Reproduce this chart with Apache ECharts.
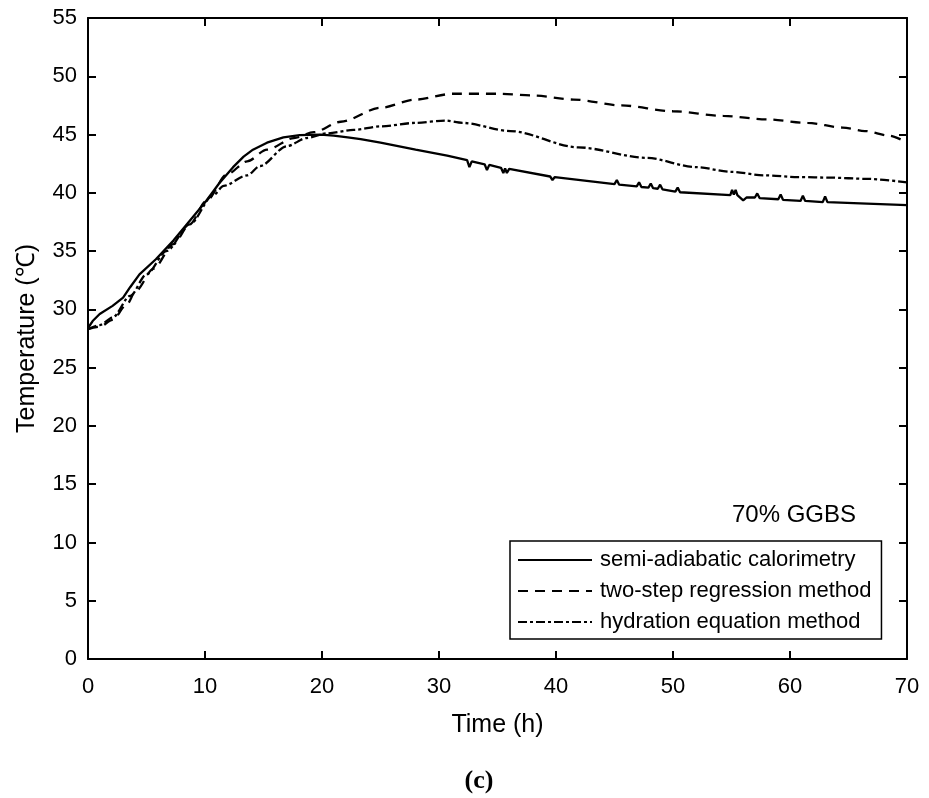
<!DOCTYPE html>
<html>
<head>
<meta charset="utf-8">
<script src="https://cdn.jsdelivr.net/npm/echarts@6/dist/echarts.min.js"></script>
<style>
html,body{margin:0;padding:0;background:#fff;}
#chart{width:929px;height:798px;}
</style>
</head>
<body>
<div id="chart"></div>
<script>
// ---- data ----
const seriesNames = ['semi-adiabatic calorimetry', 'two-step regression method', 'hydration equation method'];

const timeSemi = [0, 0.4, 1.0, 2.1, 3.0, 3.6, 4.4, 5.8, 7.3, 8.7, 10.1, 11.2, 12.4, 13.3, 14.1, 15.3, 16.7, 18.1, 19.9, 21.0, 22.2, 23.3, 25.0, 28.0, 30.7,
  32.4, 32.6, 32.8, 33.9, 34.1, 34.3, 35.3, 35.5, 35.65, 35.8, 36.0, 39.5, 39.7, 39.9, 45.0, 45.2, 45.4, 46.9, 47.1, 47.3,
  47.9, 48.1, 48.3, 48.7, 48.9, 49.1, 50.2, 50.4, 50.6, 54.9, 55.05, 55.2, 55.35, 55.5, 56.0, 56.3, 57.0, 57.2, 57.4,
  59.0, 59.2, 59.4, 60.9, 61.1, 61.3, 62.8, 63.0, 63.2, 66.0, 70.0];
const tempSemi = [28.4, 29.0, 29.6, 30.3, 31.0, 31.9, 33.0, 34.3, 35.9, 37.6, 39.3, 40.8, 42.2, 43.1, 43.7, 44.3, 44.75, 44.95, 45.0, 44.9, 44.75, 44.6, 44.3, 43.7, 43.2,
  42.8, 42.2, 42.7, 42.45, 41.95, 42.4, 42.15, 41.7, 42.1, 41.7, 42.05, 41.4, 41.1, 41.35, 40.75, 41.1, 40.7, 40.55, 40.9, 40.5,
  40.45, 40.8, 40.4, 40.35, 40.7, 40.3, 40.1, 40.45, 40.05, 39.8, 40.25, 39.85, 40.25, 39.8, 39.35, 39.6, 39.6, 39.95, 39.55,
  39.45, 39.85, 39.4, 39.3, 39.75, 39.3, 39.2, 39.7, 39.2, 39.1, 38.95];

const timeTwoStep = [0, 1.0, 2.1, 3.3, 4.1, 5.6, 7.3, 8.7, 10.1, 11.9, 13.6, 15.3, 17.6, 19.3, 21.6, 25.0, 28.0, 31.2, 35.0, 38.1, 41.5, 45.6, 50.0, 54.3, 58.0, 61.5, 64.5, 66.4, 68.5, 70.0];
const tempTwoStep = [28.3, 28.5, 29.1, 30.4, 31.6, 33.5, 35.6, 37.3, 39.3, 41.6, 42.7, 43.7, 44.7, 45.2, 46.1, 47.3, 48.0, 48.5, 48.5, 48.35, 48.0, 47.5, 47.0, 46.6, 46.3, 46.0, 45.6, 45.3, 44.9, 44.3];

const timeHydration = [0, 1.0, 2.1, 3.6, 5.0, 6.7, 8.7, 10.7, 11.6, 13.6, 14.7, 17.0, 18.7, 20.4, 22.7, 25.0, 28.0, 30.5, 32.0, 36.1, 41.9, 47.7, 52.0, 55.0, 57.8, 60.7, 63.5, 66.5, 70.0];
const tempHydration = [28.3, 28.65, 29.3, 31.15, 33.0, 35.0, 37.3, 39.8, 40.6, 41.5, 42.3, 44.0, 44.7, 45.1, 45.4, 45.7, 46.0, 46.2, 46.0, 45.3, 43.9, 43.0, 42.2, 41.8, 41.5, 41.35, 41.3, 41.2, 40.9];

const xTicks = {min: 0, max: 70, interval: 10};
const yTicks = {min: 0, max: 55, interval: 5};
const annotation = '70% GGBS';
const caption = '(c)';
const xTitle = 'Time (h)';
const yTitle = 'Temperature (℃)';

function pairs(xs, ys) { return xs.map((x, i) => [x, ys[i]]); }

const FONT = '"Liberation Sans", Arial, sans-serif';
const LW = 2.3;
const axisLine = {show: true, onZero: false, lineStyle: {color: '#000', width: 2}};
const axisTick = {show: true, inside: true, length: 8, lineStyle: {color: '#000', width: 2}};

const chart = echarts.init(document.getElementById('chart'), null, {renderer: 'canvas'});
chart.setOption({
  animation: false,
  backgroundColor: '#fff',
  grid: {left: 88, top: 18, right: 22, bottom: 139, containLabel: false},
  xAxis: [{
    type: 'value', min: xTicks.min, max: xTicks.max, interval: xTicks.interval,
    position: 'bottom',
    name: xTitle, nameLocation: 'middle', nameGap: 54,
    nameTextStyle: {fontFamily: FONT, fontSize: 25, color: '#000'},
    axisLine: axisLine, axisTick: axisTick,
    axisLabel: {fontFamily: FONT, fontSize: 22, color: '#000', margin: 17},
    splitLine: {show: false}
  }, {
    type: 'value', min: xTicks.min, max: xTicks.max, interval: xTicks.interval,
    position: 'top',
    axisLine: axisLine, axisTick: axisTick,
    axisLabel: {show: false}, splitLine: {show: false}
  }],
  yAxis: [{
    type: 'value', min: yTicks.min, max: yTicks.max, interval: yTicks.interval,
    position: 'left',
    name: yTitle, nameLocation: 'middle', nameGap: 48,
    nameTextStyle: {fontFamily: FONT, fontSize: 25, color: '#000'},
    axisLine: axisLine, axisTick: axisTick,
    axisLabel: {fontFamily: FONT, fontSize: 22, color: '#000', margin: 11},
    splitLine: {show: false}
  }, {
    type: 'value', min: yTicks.min, max: yTicks.max, interval: yTicks.interval,
    position: 'right',
    axisLine: axisLine, axisTick: axisTick,
    axisLabel: {show: false}, splitLine: {show: false}
  }],
  legend: {
    orient: 'vertical',
    left: 510, top: 541,
    padding: [8, 10, 6, 7],
    itemGap: 9,
    itemWidth: 74, itemHeight: 14,
    icon: 'inherit',
    itemStyle: {color: 'rgba(0,0,0,0)', borderColor: 'rgba(0,0,0,0)', borderWidth: 0, opacity: 0},
    borderColor: '#000', borderWidth: 1.5,
    backgroundColor: '#fff',
    textStyle: {fontFamily: FONT, fontSize: 22, color: '#000', padding: [0, 0, 0, 3]},
    data: seriesNames
  },
  series: [{
    name: seriesNames[0], type: 'line', symbol: 'none',
    data: pairs(timeSemi, tempSemi),
    lineStyle: {color: '#000', width: LW, type: 'solid'},
    itemStyle: {color: '#000'}
  }, {
    name: seriesNames[1], type: 'line', symbol: 'none',
    smooth: 0.3, smoothMonotone: 'x',
    data: pairs(timeTwoStep, tempTwoStep),
    lineStyle: {color: '#000', width: LW, type: [10, 7]},
    itemStyle: {color: '#000'}
  }, {
    name: seriesNames[2], type: 'line', symbol: 'none',
    smooth: 0.3, smoothMonotone: 'x',
    data: pairs(timeHydration, tempHydration),
    lineStyle: {color: '#000', width: LW, type: [9, 3, 3, 3]},
    itemStyle: {color: '#000'}
  }],
  graphic: [{
    type: 'text', left: 732, top: 503,
    style: {text: annotation, font: '24px ' + FONT, fill: '#000'}
  }, {
    type: 'text', x: 479, y: 781,
    style: {text: caption, font: 'bold 26px "Liberation Serif", "DejaVu Serif", serif', fill: '#000', align: 'center', verticalAlign: 'middle'}
  }]
});
</script>
</body>
</html>
